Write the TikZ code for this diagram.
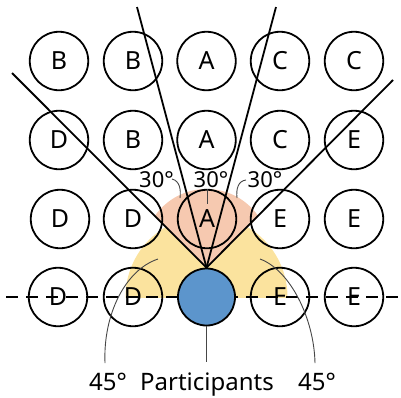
\documentclass[tikz,border=0pt]{standalone}
\usepackage{fontspec}
\setmainfont{Noto Sans}
\definecolor{yel}{RGB}{251,227,158}
\definecolor{pnk}{RGB}{246,201,176}
\definecolor{blu}{RGB}{92,149,204}
\definecolor{lead}{RGB}{70,70,70}
\begin{document}
\begin{tikzpicture}[x=1pt,y=-1pt,
  cell/.style={circle,draw=black,line width=1.8pt,minimum size=58.5pt,inner sep=0pt,font=\fontsize{25}{25}\selectfont},
  ray/.style={line width=1.8pt,black},
  leader/.style={line width=0.9pt,lead},
  lab/.style={inner sep=0pt,font=\fontsize{22}{22}\selectfont},
  blab/.style={inner sep=0pt,anchor=base,font=\fontsize{24}{24}\selectfont}]
\useasboundingbox (0,0) rectangle (401,397);
% yellow half disk
\begin{scope}
  \clip (0,0) rectangle (401,297);
  \fill[yel] (206.5,297) circle[radius=81];
\end{scope}
% pink wedge
\begin{scope}
  \clip (206.5,268.5) -- (56.5,118.5) -- (356.5,118.5) -- cycle;
  \fill[pnk] (206.5,252) circle[radius=63];
\end{scope}
% dashed line
\coordinate (dl) at (6,297);
\coordinate (dr) at (398,297);
\draw[line width=2.8pt,dash pattern=on 12pt off 8pt] (dl) -- (dr);
% grid
\node[cell] (a1) at (59,61) {B};
\node[cell] (a2) at (133,61) {B};
\node[cell] (a3) at (206.5,61) {A};
\node[cell] (a4) at (280,61) {C};
\node[cell] (a5) at (354,61) {C};
\node[cell] (b1) at (59,140) {D};
\node[cell] (b2) at (133,140) {B};
\node[cell] (b3) at (206.5,140) {A};
\node[cell] (b4) at (280,140) {C};
\node[cell] (b5) at (354,140) {E};
\node[cell] (c1) at (60,219) {D};
\node[cell] (c2) at (133,219) {D};
\node[cell] (c3) at (207,219) {A};
\node[cell] (c4) at (280,219) {E};
\node[cell] (c5) at (354,219) {E};
\node[cell] (d1) at (58,297) {D};
\node[cell] (d2) at (133,297) {D};
\node[cell] (d4) at (280,297) {E};
\node[cell] (d5) at (354,297) {E};
% participant
\node[circle,draw=black,line width=1.8pt,fill=blu,minimum size=57pt,inner sep=0pt] (P) at (206.5,297) {};
% rays
\coordinate (e1) at (12,73);
\coordinate (e2) at (137,7);
\coordinate (e3) at (276,7);
\coordinate (e4) at (393,80);
\draw[ray] (P.north) -- (e1);
\draw[ray] (P.north) -- (e2);
\draw[ray] (P.north) -- (e3);
\draw[ray] (P.north) -- (e4);
% 30 degree labels
\node[lab] (t1) at (156.5,180) {30°};
\node[lab] (t2) at (211,180) {30°};
\node[lab] (t3) at (265,180) {30°};
\coordinate (t1s) at (172,179);
\coordinate (t1e) at (180,198);
\coordinate (t2s) at (207,189);
\coordinate (t2e) at (207,204);
\coordinate (t3s) at (246,180);
\coordinate (t3e) at (237,198);
\draw[leader] (t1s) .. controls (180,181) and (181,190) .. (t1e);
\draw[leader] (t2s) -- (t2e);
\draw[leader] (t3s) .. controls (238,181) and (236,189) .. (t3e);
% bottom labels
\node[blab] (l1) at (108,390) {45°};
\node[blab] (l2) at (207,390) {Participants};
\node[blab] (l3) at (317,390) {45°};
\coordinate (ls) at (158,259);
\coordinate (le) at (105,363);
\coordinate (rs) at (260,259);
\coordinate (re) at (315,363);
\coordinate (pe) at (206.5,362);
\draw[leader] (ls) .. controls (125,270) and (103,315) .. (le);
\draw[leader] (rs) .. controls (290,270) and (314,318) .. (re);
\draw[leader] (P.south) -- (pe);
\end{tikzpicture}
\end{document}
